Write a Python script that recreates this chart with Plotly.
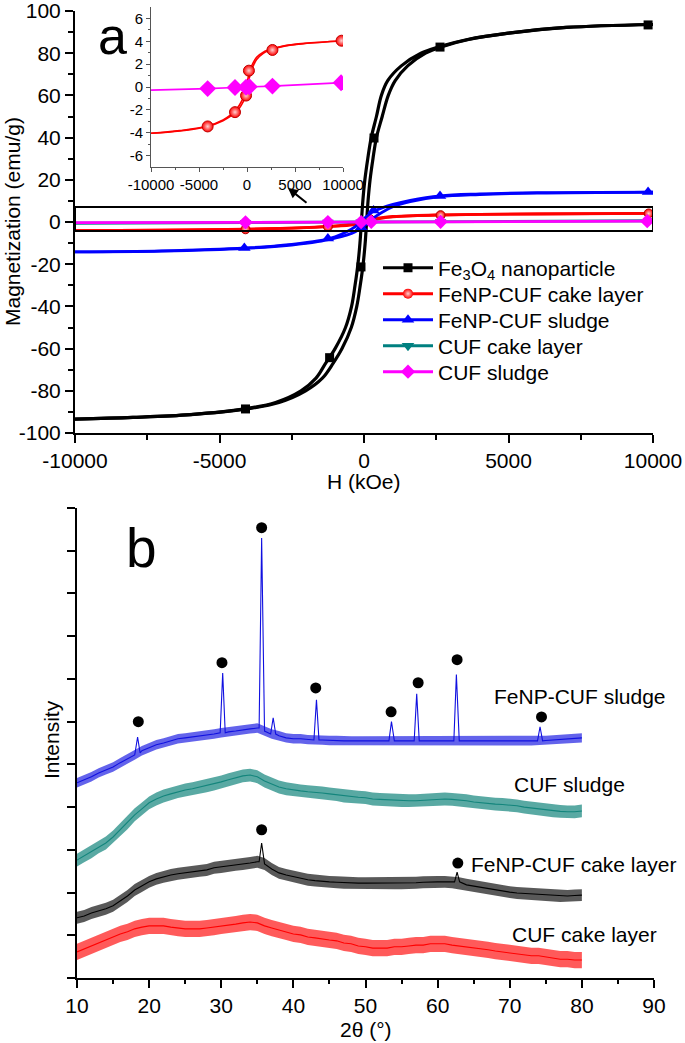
import plotly.graph_objects as go

# ================= Panel a : magnetization hysteresis loops =================
# Fe3O4 nanoparticle: M grid and the H of the ascending / descending branches
FE3O4_M = [-93.4, -92.6, -91.3, -88.6, -85.5, -80, -74, -67, -60, -50, -40, -30, -20, -10, 0,
           10, 20, 30, 40, 50, 60, 67, 74, 80, 83, 86.5, 89.5, 92.2, 93.6]
FE3O4_H_ASC = [-10000, -7990, -5980, -4060, -2940, -2020, -1440, -1070, -760, -440, -250, -130, -30, 40, 90,
               140, 210, 310, 430, 630, 840, 1080, 1510, 2130, 2670, 3620, 5010, 7005, 10000]
FE3O4_H_DESC = [-10000, -8010, -6020, -4140, -3060, -2180, -1660, -1330, -1000, -640, -430, -310, -210, -140, -90,
                -40, 30, 130, 250, 430, 600, 820, 1290, 1970, 2590, 3580, 4990, 6995, 10000]
FE3O4_MARK_H = [-4100, -1190, -104, 346, 2630, 9830]
FE3O4_MARK_M = [-88.6, -64.3, -21.3, 39.8, 82.9, 93.4]

# FeNP-CUF sludge
SLUDGE_H = [-10000, -7000, -4100, -2500, -1600, -1000, -600, -300, 0, 300, 600, 1000, 1600, 2630, 4000, 6000, 10000]
SLUDGE_ASC = [-14.2, -13.8, -12.5, -10.9, -9.3, -7.6, -6.2, -4.6, -2.0, 1.6, 4.4, 7.2, 9.6, 12.0, 13.0, 13.7, 14.2]
SLUDGE_DESC = [-14.2, -13.7, -12.3, -10.6, -9.0, -7.0, -4.6, -2.2, 1.6, 4.8, 6.6, 8.4, 10.3, 12.4, 13.3, 13.9, 14.2]
SLUDGE_MARK_H = [-4140, -1250, -100, 330, 2630, 9830]
SLUDGE_MARK_M = [-12.3, -7.8, -2.5, 5.5, 12.3, 14.2]

# FeNP-CUF cake layer
CAKE_H = [-10000, -7000, -4100, -2500, -1700, -1250, -800, -400, -100, 100, 300, 600, 1000, 1700, 2650, 4000, 6000, 10000]
CAKE_ASC = [-4.05, -3.85, -3.45, -2.95, -2.55, -2.25, -1.85, -1.3, -0.75, 0.2, 1.0, 1.75, 2.4, 2.95, 3.3, 3.6, 3.8, 4.05]
CAKE_DESC = [-4.05, -3.82, -3.42, -2.88, -2.45, -2.1, -1.6, -0.95, -0.2, 0.75, 1.45, 2.05, 2.6, 3.05, 3.35, 3.62, 3.82, 4.05]
CAKE_MARK_H = [-4100, -1250, -100, 200, 2650, 9850]
CAKE_MARK_M = [-3.45, -2.2, -0.75, 1.43, 3.24, 4.05]

# CUF cake layer
CUFCAKE_H = [-10000, -4100, 0, 4100, 10000]
CUFCAKE_M = [-0.6, -0.25, 0.0, 0.2, 0.6]
CUFCAKE_MARK_H = [-4100, -1250, -100, 250, 2650, 9850]
CUFCAKE_MARK_M = [-0.25, -0.08, -0.01, 0.03, 0.16, 0.55]

# CUF sludge
CUFSLUDGE_H = [-10000, -4100, -1250, 0, 2650, 10000]
CUFSLUDGE_M = [-0.27, -0.14, -0.05, 0.0, 0.08, 0.38]
CUFSLUDGE_MARK_H = [-4100, -1250, -100, 250, 2650, 9800]
CUFSLUDGE_MARK_M = [-0.14, -0.05, -0.02, 0.02, 0.08, 0.37]

SERIES_NAMES = ["Fe<sub>3</sub>O<sub>4</sub> nanoparticle", "FeNP-CUF cake layer", "FeNP-CUF sludge",
                "CUF cake layer", "CUF sludge"]

MAIN_X_TICKS = [-10000, -5000, 0, 5000, 10000]
MAIN_X_TEXT = ["-10000", "-5000", "0", "5000", "10000"]
MAIN_Y_TICKS = [-100, -80, -60, -40, -20, 0, 20, 40, 60, 80, 100]
MAIN_Y_TEXT = ["-100", "-80", "-60", "-40", "-20", "0", "20", "40", "60", "80", "100"]
INSET_Y_TICKS = [-6, -4, -2, 0, 2, 4, 6]
INSET_Y_TEXT = ["-6", "-4", "-2", "0", "2", "4", "6"]

# ================= Panel b : XRD patterns =================
TWO_THETA = list(range(10, 81))
XRD_SLUDGE = [45.7, 46.4, 47.1, 48.0, 48.7, 49.4, 50.4, 51.3, 52.2, 53.2, 53.9, 54.6, 55.0, 55.5, 56.0, 56.2,
              56.4, 56.7, 56.9, 57.1, 57.4, 57.6, 57.8, 58.1, 58.3, 58.5, 57.8, 57.1, 56.7, 56.2, 56.0, 56.0,
              55.8, 55.7, 55.7, 55.6, 55.6, 55.5, 55.5, 55.5, 55.5, 55.5, 55.5, 55.5, 55.5, 55.5, 55.5, 55.5,
              55.5, 55.5, 55.5, 55.5, 55.5, 55.5, 55.5, 55.5, 55.5, 55.5, 55.5, 55.5, 55.5, 55.5, 55.5, 55.5,
              55.5, 55.6, 55.7, 55.8, 56.0, 56.1, 56.2]
XRD_CUF_SLUDGE = [27.6, 28.6, 29.5, 30.7, 31.6, 33.0, 34.7, 36.3, 38.2, 39.6, 41.0, 41.9, 42.6, 43.1, 43.6, 44.0,
                  44.3, 44.7, 45.0, 45.4, 45.9, 46.4, 46.8, 47.3, 47.5, 47.1, 46.1, 45.4, 44.7, 44.3, 44.0, 43.8,
                  43.6, 43.5, 43.3, 43.1, 42.9, 42.6, 42.4, 42.3, 42.2, 41.9, 41.8, 41.7, 41.6, 41.5, 41.5, 41.5,
                  41.6, 41.7, 41.8, 41.9, 41.8, 41.7, 41.5, 41.2, 41.0, 40.9, 40.7, 40.6, 40.5, 40.3, 40.0, 39.8,
                  39.6, 39.3, 39.1, 39.0, 38.9, 38.9, 39.1]
XRD_CAKE = [14.1, 14.5, 15.2, 15.7, 16.2, 16.9, 18.0, 19.2, 20.6, 21.5, 22.5, 23.2, 23.7, 24.1, 24.4, 24.6,
            24.8, 25.1, 25.3, 25.8, 26.0, 26.2, 26.5, 26.7, 26.9, 27.2, 26.7, 25.5, 24.6, 24.1, 23.7, 23.4,
            23.0, 22.8, 22.6, 22.5, 22.4, 22.3, 22.3, 22.2, 22.2, 22.2, 22.2, 22.2, 22.2, 22.2, 22.2, 22.3,
            22.4, 22.5, 22.5, 22.5, 22.4, 22.2, 21.8, 21.5, 21.3, 20.9, 20.6, 20.4, 20.1, 19.9, 19.8, 19.7,
            19.5, 19.4, 19.3, 19.2, 19.2, 19.3, 19.4]
XRD_CUF_CAKE = [6.1, 6.8, 7.5, 8.2, 8.9, 9.6, 10.3, 10.8, 11.5, 11.9, 12.2, 12.2, 12.2, 11.9, 11.7, 11.5,
                11.5, 11.5, 11.7, 11.9, 12.2, 12.4, 12.6, 12.9, 13.1, 12.9, 12.2, 11.7, 11.2, 10.8, 10.3, 10.1,
                9.6, 9.4, 9.1, 8.9, 8.7, 8.2, 8.0, 7.5, 7.3, 7.0, 7.0, 7.0, 7.3, 7.3, 7.5, 7.7, 7.7, 8.0,
                8.0, 8.0, 7.7, 7.5, 7.3, 7.0, 6.8, 6.6, 6.3, 6.1, 5.9, 5.6, 5.4, 5.2, 5.2, 4.9, 4.7, 4.4, 4.4,
                4.2, 4.2]
# noise half-amplitude of each trace
XRD_NOISE = {"sludge": 1.1, "cuf_sludge": 1.5, "cake": 1.4, "cuf_cake": 1.9}

# diffraction peaks: position, top, foot
SLUDGE_PEAK_POS = [18.4, 30.2, 35.6, 37.2, 43.2, 53.6, 57.1, 62.6, 74.2]
SLUDGE_PEAK_TOP = [56.4, 71.4, 103.0, 60.9, 65.1, 60.0, 66.5, 71.0, 58.8]
SLUDGE_PEAK_FOOT = [52.7, 57.4, 58.5, 57.1, 55.7, 55.5, 55.5, 55.5, 55.5]
CAKE_PEAK_POS = [35.6, 62.7]
CAKE_PEAK_TOP = [31.6, 24.8]
CAKE_PEAK_FOOT = [27.2, 22.5]

# Fe3O4 reflection markers (filled dots)
DOT_SLUDGE_X = [18.5, 30.1, 35.6, 43.1, 53.55, 57.3, 62.7, 74.4]
DOT_SLUDGE_Y = [60.0, 73.8, 105.4, 67.9, 62.3, 69.1, 74.5, 61.1]
DOT_CAKE_X = [35.6, 62.8]
DOT_CAKE_Y = [34.7, 26.9]

XRD_X_TICKS = [10, 20, 30, 40, 50, 60, 70, 80, 90]
XRD_Y_TICKS = [0, 10, 20, 30, 40, 50, 60, 70, 80, 90, 100, 110]

# ---------------------------------------------------------------------------
FONT = "Liberation Sans, Arial, sans-serif"
W, H = 685, 1043
BLACK, RED, BLUE, TEAL, MAGENTA = "#000000", "#ff0000", "#0000ff", "#008080", "#ff00ff"


def fx(p):
    return p / W


def fy(p):
    return 1 - p / H


fig = go.Figure()


def loop(xs_list, ys_list, color, width, xa="x", ya="y"):
    for xs, ys in zip(xs_list, ys_list):
        fig.add_trace(go.Scatter(x=xs, y=ys, mode="lines", line=dict(color=color, width=width, shape="spline"),
                                 showlegend=False, hoverinfo="skip", xaxis=xa, yaxis=ya))


def marks(xs, ys, symbol, color, size, xa="x", ya="y", gradient=False, outline=None):
    m = dict(symbol=symbol, color=color, size=size, line=dict(width=1 if outline else 0, color=outline or color))
    if gradient:
        m["gradient"] = dict(type="radial", color="#ffd0d0")
    fig.add_trace(go.Scatter(x=xs, y=ys, mode="markers", marker=m, showlegend=False, hoverinfo="skip",
                             xaxis=xa, yaxis=ya))


loop([FE3O4_H_ASC, FE3O4_H_DESC], [FE3O4_M, FE3O4_M], BLACK, 3.2)
marks(FE3O4_MARK_H, FE3O4_MARK_M, "square", BLACK, 9)
loop([CAKE_H, CAKE_H], [CAKE_ASC, CAKE_DESC], RED, 2.8)
marks(CAKE_MARK_H, CAKE_MARK_M, "circle", RED, 9, gradient=True, outline="#b00000")
loop([SLUDGE_H, SLUDGE_H], [SLUDGE_ASC, SLUDGE_DESC], BLUE, 2.8)
marks(SLUDGE_MARK_H, SLUDGE_MARK_M, "triangle-up", BLUE, 11)
loop([CUFCAKE_H], [CUFCAKE_M], TEAL, 2.8)
marks(CUFCAKE_MARK_H, CUFCAKE_MARK_M, "triangle-down", TEAL, 10)
loop([CUFSLUDGE_H], [CUFSLUDGE_M], MAGENTA, 2.8)
marks(CUFSLUDGE_MARK_H, CUFSLUDGE_MARK_M, "diamond", MAGENTA, 11)

# legend entries (line + symbol), one small legend per row so rows can sit as in the original
LEG_STYLE = [("square", BLACK, 9), ("circle", RED, 10), ("triangle-up", BLUE, 11),
             ("triangle-down", TEAL, 11), ("diamond", MAGENTA, 11)]
LEG_ROWS_PX = [268, 294, 320, 346, 372]
legend_layouts = {}
for i, (name, (sym, col, sz)) in enumerate(zip(SERIES_NAMES, LEG_STYLE)):
    key = "legend" if i == 0 else f"legend{i + 1}"
    mk = dict(symbol=sym, color=col, size=sz)
    if sym == "circle":
        mk["gradient"] = dict(type="radial", color="#ffd0d0")
    fig.add_trace(go.Scatter(x=[None], y=[None], mode="lines+markers", name=name, legend=key,
                             line=dict(color=col, width=3), marker=mk, xaxis="x", yaxis="y"))
    legend_layouts[key] = dict(x=fx(378), y=fy(LEG_ROWS_PX[i]), xanchor="left", yanchor="middle",
                               bgcolor="rgba(0,0,0,0)", font=dict(family=FONT, size=21, color="black"),
                               itemwidth=50)

# ---- inset ----
loop([CAKE_H, CAKE_H], [CAKE_ASC, CAKE_DESC], RED, 1.6, "x2", "y2")
loop([CUFSLUDGE_H], [CUFSLUDGE_M], MAGENTA, 1.6, "x2", "y2")
marks(CAKE_MARK_H, CAKE_MARK_M, "circle", RED, 11, "x2", "y2", gradient=True, outline="#c00000")
marks(CUFSLUDGE_MARK_H, CUFSLUDGE_MARK_M, "diamond", MAGENTA, 13, "x2", "y2")


# ---- panel b : XRD ----
def with_peaks(xs, ys, pos, top, foot, half=0.35):
    pts = list(zip(xs, ys))
    for p, t, f in zip(pos, top, foot):
        pts = [(a, b) for a, b in pts if abs(a - p) >= half]
        pts += [(p - half, f), (p, t), (p + half, f)]
    pts.sort()
    return [a for a, _ in pts], [b for _, b in pts]


def xrd(ys, noise, color, band_color, pos=(), top=(), foot=()):
    up = [v + noise for v in ys]
    lo = [v - noise for v in ys]
    fig.add_trace(go.Scatter(x=TWO_THETA + TWO_THETA[::-1], y=up + lo[::-1], mode="lines", fill="toself",
                             fillcolor=band_color, line=dict(width=0),
                             showlegend=False, hoverinfo="skip", xaxis="x3", yaxis="y3"))
    lx, ly = with_peaks(TWO_THETA, ys, pos, top, foot)
    fig.add_trace(go.Scatter(x=lx, y=ly, mode="lines", line=dict(color=color, width=1.1),
                             showlegend=False, hoverinfo="skip", xaxis="x3", yaxis="y3"))


xrd(XRD_CUF_CAKE, XRD_NOISE["cuf_cake"], RED, "rgba(255,20,20,0.7)")
xrd(XRD_CAKE, XRD_NOISE["cake"], BLACK, "rgba(0,0,0,0.65)", CAKE_PEAK_POS, CAKE_PEAK_TOP, CAKE_PEAK_FOOT)
xrd(XRD_CUF_SLUDGE, XRD_NOISE["cuf_sludge"], "#13857c", "rgba(19,133,124,0.7)")
xrd(XRD_SLUDGE, XRD_NOISE["sludge"], "#1010e0", "rgba(16,16,224,0.65)",
    SLUDGE_PEAK_POS, SLUDGE_PEAK_TOP, SLUDGE_PEAK_FOOT)

fig.add_trace(go.Scatter(x=DOT_SLUDGE_X + DOT_CAKE_X, y=DOT_SLUDGE_Y + DOT_CAKE_Y, mode="markers",
                         marker=dict(symbol="circle", color=BLACK, size=11), showlegend=False,
                         hoverinfo="skip", xaxis="x3", yaxis="y3"))

# ---------------------------------------------------------------------------
tickfont = dict(family=FONT, size=21, color="black")
common = dict(showgrid=False, zeroline=False, showline=True, linecolor="black", linewidth=2,
              ticks="outside", tickcolor="black", tickwidth=2, ticklen=8, tickfont=tickfont,
              ticklabeloverflow="allow")

fig.update_layout(
    width=W, height=H, margin=dict(l=0, r=0, t=0, b=0),
    paper_bgcolor="white", plot_bgcolor="rgba(0,0,0,0)", template="none",
    font=dict(family=FONT, color="black"),
    xaxis=dict(domain=[fx(75), fx(653)], range=[-10000, 10000], anchor="y",
               tickmode="array", tickvals=MAIN_X_TICKS, ticktext=MAIN_X_TEXT,
               minor=dict(tickmode="array", tickvals=[-7500, -2500, 2500, 7500], ticks="outside",
                          ticklen=5, tickwidth=2, tickcolor="black", showgrid=False), **common),
    yaxis=dict(domain=[fy(433), fy(11)], range=[-100, 100], anchor="x",
               tickmode="array", tickvals=MAIN_Y_TICKS, ticktext=MAIN_Y_TEXT,
               minor=dict(tickmode="array", tickvals=[-90, -70, -50, -30, -10, 10, 30, 50, 70, 90],
                          ticks="outside", ticklen=5, tickwidth=2, tickcolor="black", showgrid=False), **common),
    xaxis2=dict(domain=[fx(151), fx(343)], range=[-10000, 10000], anchor="y2",
                showgrid=False, zeroline=False, showline=True, linecolor="#555555", linewidth=1,
                ticks="outside", tickcolor="#555555", tickwidth=1, ticklen=4, ticklabeloverflow="allow",
                tickfont=dict(family=FONT, size=15, color="black"),
                tickmode="array", tickvals=MAIN_X_TICKS, ticktext=MAIN_X_TEXT,
                minor=dict(tickmode="array", tickvals=[-7500, -2500, 2500, 7500], ticks="outside",
                           ticklen=2, tickwidth=1, tickcolor="#555555", showgrid=False)),
    yaxis2=dict(domain=[fy(167), fy(7)], range=[-7, 7], anchor="x2",
                showgrid=False, zeroline=False, showline=True, linecolor="#555555", linewidth=1,
                ticks="outside", tickcolor="#555555", tickwidth=1, ticklen=4, ticklabeloverflow="allow",
                tickfont=dict(family=FONT, size=15, color="black"),
                tickmode="array", tickvals=INSET_Y_TICKS, ticktext=INSET_Y_TEXT,
                minor=dict(tickmode="array", tickvals=[-5, -3, -1, 1, 3, 5], ticks="outside",
                           ticklen=2, tickwidth=1, tickcolor="#555555", showgrid=False)),
    xaxis3=dict(domain=[fx(77), fx(654)], range=[10, 90], anchor="y3",
                tickmode="array", tickvals=XRD_X_TICKS,
                minor=dict(tickmode="array", tickvals=[15, 25, 35, 45, 55, 65, 75, 85], ticks="outside",
                           ticklen=4, tickwidth=2, tickcolor="black", showgrid=False), **common),
    yaxis3=dict(domain=[fy(978), fy(508)], range=[0, 110], anchor="x3",
                tickmode="array", tickvals=XRD_Y_TICKS, showticklabels=False, **common),
    showlegend=True,
    **legend_layouts,
)

# box around the zoomed region and arrow to the inset
fig.add_shape(type="rect", xref="x", yref="y", x0=-10000, x1=10000, y0=-4.3, y1=7.1,
              line=dict(color="black", width=2), layer="above")
fig.add_annotation(xref="paper", yref="paper", x=fx(288), y=fy(188), ax=20, ay=16, text="",
                   showarrow=True, arrowhead=2, arrowsize=1, arrowwidth=2, arrowcolor="black")

ann_font = dict(family=FONT, size=21, color="black")
texts = [
    dict(text="a", x=fx(113), y=fy(36), font=dict(family=FONT, size=52, color="black")),
    dict(text="b", x=fx(141), y=fy(548), font=dict(family=FONT, size=55, color="black")),
    dict(text="Magnetization (emu/g)", x=fx(12), y=fy(222), textangle=-90, font=ann_font),
    dict(text="H (kOe)", x=fx(364), y=fy(481), font=ann_font),
    dict(text="Intensity", x=fx(51), y=fy(740), textangle=-90, font=ann_font),
    dict(text="2θ (°)", x=fx(366), y=fy(1029), font=ann_font),
]
for t in texts:
    fig.add_annotation(xref="paper", yref="paper", xanchor="center", yanchor="middle", showarrow=False, **t)

labels = [("FeNP-CUF sludge", 67.6, 66.0), ("CUF sludge", 70.3, 45.2),
          ("FeNP-CUF cake layer", 64.4, 26.5), ("CUF cake layer", 70.0, 10.1)]
for txt, lx, ly in labels:
    fig.add_annotation(xref="x3", yref="y3", x=lx, y=ly, text=txt, showarrow=False,
                       xanchor="left", yanchor="middle", font=ann_font)

fig.write_html("out.html", config={"displayModeBar": False},
               post_script="document.body.style.margin='0px';")
